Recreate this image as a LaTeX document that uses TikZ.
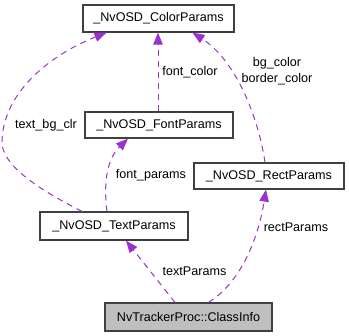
\documentclass[tikz,border=0pt]{standalone}
\usepackage{fontspec}
\setmainfont{Liberation Sans}
\usetikzlibrary{arrows.meta,calc}
\definecolor{edgec}{HTML}{9A32CD}
\definecolor{boxline}{HTML}{404040}
\definecolor{boxgray}{HTML}{BFBFBF}
\begin{document}
\begin{tikzpicture}[x=1bp,y=-1bp,
  every node/.style={font=\fontsize{12.6bp}{16bp}\selectfont},
  classbox/.style={draw=boxline,line width=1.2bp,fill=white,inner sep=0pt,minimum height=27bp},
  rel/.style={draw=edgec,line width=1bp,dash pattern=on 6bp off 5bp,
    -{Triangle[length=12bp,width=9.5bp,fill=edgec]}},
  lbl/.style={inner sep=0pt,align=center}]
\useasboundingbox (0,0) rectangle (349,336);
\node[classbox,minimum width=151bp,minimum height=27bp] (color) at (158.5,18.5) {\_NvOSD\_ColorParams};
\node[classbox,minimum width=148bp,minimum height=26bp] (font) at (159,125) {\_NvOSD\_FontParams};
\node[classbox,minimum width=150bp,minimum height=26bp] (rect) at (269,176) {\_NvOSD\_RectParams};
\node[classbox,minimum width=148bp,minimum height=28bp] (text) at (114,226) {\_NvOSD\_TextParams};
\node[classbox,fill=boxgray,minimum width=167bp,minimum height=28bp] (cls) at (188.5,317) {NvTrackerProc::ClassInfo};
\coordinate (lb) at (2,140);
% text_bg_clr
\draw[rel] ([xshift=-32bp]text.north) .. controls (40,190) and (0,165) .. (lb)
  .. controls (4,92) and (50,55) .. ([xshift=-52bp]color.south);
\node[lbl] (l1) at (46,125) {text\_bg\_clr};
% font_color
\draw[rel] ([xshift=-1bp]font.north) -- ([xshift=-0.5bp]color.south);
\node[lbl] (l2) at (190,72) {font\_color};
% bg_color / border_color
\draw[rel] ([xshift=-4bp]rect.north) .. controls (258,115) and (235,60) .. ([xshift=34bp]color.south);
\node[lbl] (l3) at (277,71.5) {bg\_color\\border\_color};
% font_params
\draw[rel] ([xshift=-7bp]text.north) .. controls (103,180) and (108,158) .. ([xshift=-31bp]font.south);
\node[lbl] (l4) at (151,175) {font\_params};
% textParams
\draw[rel] ([xshift=-13.5bp]cls.north) -- ([xshift=12bp]text.south);
\node[lbl] (l5) at (194.5,271) {textParams};
% rectParams
\draw[rel] ([xshift=20bp]cls.north) .. controls (240,283) and (258,240) .. ([xshift=-3bp]rect.south);
\node[lbl] (l6) at (296,227) {rectParams};
\end{tikzpicture}
\end{document}
